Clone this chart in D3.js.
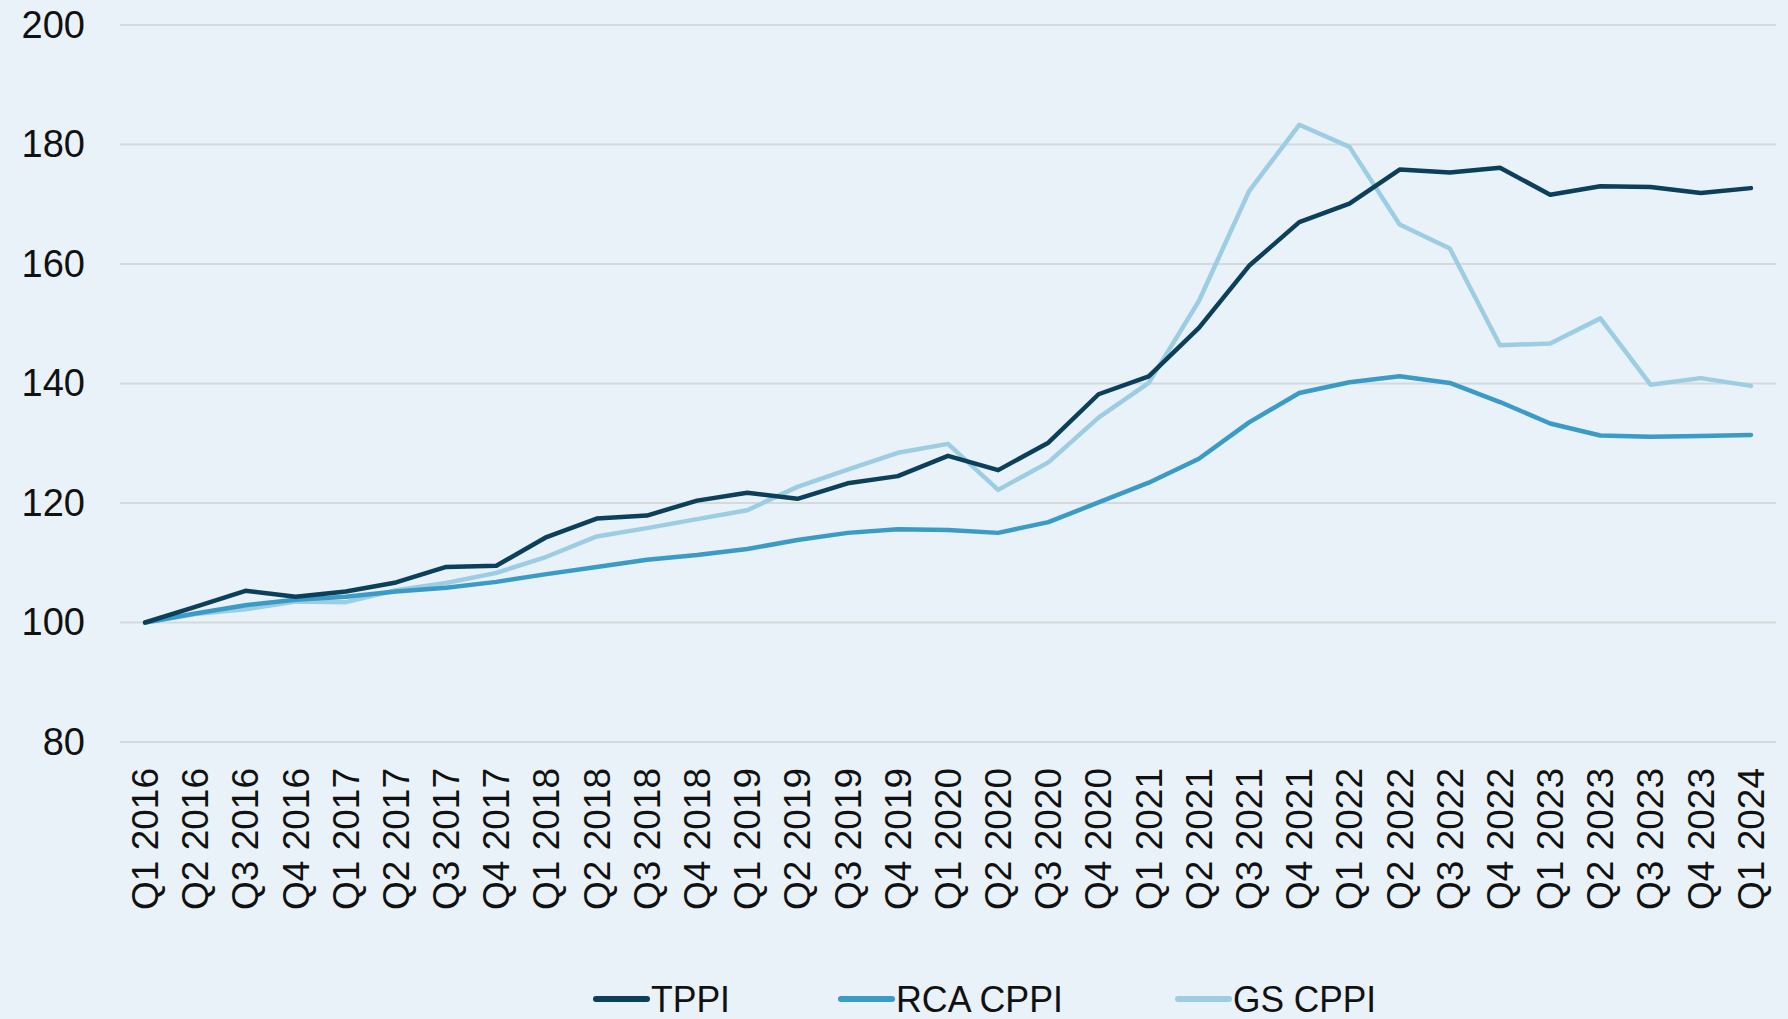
<!DOCTYPE html>
<html>
<head>
<meta charset="utf-8">
<script src="https://cdn.jsdelivr.net/npm/d3@7"></script>
<style>
html,body{margin:0;padding:0;background:#e8f2f8;}
svg{display:block;}
</style>
</head>
<body>
<svg id="chart" width="1788" height="1019"></svg>
<script>
const categories = ["Q1 2016","Q2 2016","Q3 2016","Q4 2016","Q1 2017","Q2 2017","Q3 2017","Q4 2017",
"Q1 2018","Q2 2018","Q3 2018","Q4 2018","Q1 2019","Q2 2019","Q3 2019","Q4 2019",
"Q1 2020","Q2 2020","Q3 2020","Q4 2020","Q1 2021","Q2 2021","Q3 2021","Q4 2021",
"Q1 2022","Q2 2022","Q3 2022","Q4 2022","Q1 2023","Q2 2023","Q3 2023","Q4 2023","Q1 2024"];
const tppi = [100,102.6,105.3,104.3,105.2,106.7,109.3,109.5,114.3,117.4,117.9,120.4,121.7,120.7,123.3,124.5,
127.9,125.5,130.1,138.2,141.2,149.3,159.7,167.0,170.1,175.8,175.3,176.1,171.6,173.0,172.9,171.9,172.7];
const rcaCppi = [100,101.5,102.9,103.8,104.3,105.2,105.8,106.8,108.1,109.3,110.5,111.3,112.3,113.8,115.0,115.6,
115.5,115.0,116.8,120.1,123.4,127.4,133.5,138.4,140.2,141.2,140.1,136.9,133.3,131.3,131.1,131.2,131.4];
const gsCppi = [100,101.4,102.2,103.5,103.4,105.4,106.6,108.3,111.0,114.4,115.8,117.3,118.8,122.7,125.6,128.4,
129.9,122.2,126.8,134.3,140.1,153.8,172.2,183.3,179.6,166.6,162.6,146.4,146.7,150.9,139.8,140.9,139.6];
const yTicks = [80,100,120,140,160,180,200];
const seriesNames = ["TPPI","RCA CPPI","GS CPPI"];
const seriesColors = ["#0b3f5a","#3a9bc7","#9dcde2"];

const series = [tppi, rcaCppi, gsCppi].map((v,i)=>({name:seriesNames[i], color:seriesColors[i], values:v}));

const svg = d3.select("#chart");
const margin = {left:120, right:12, top:25, bottom:277};
const W = 1788, H = 1019;
const x = d3.scaleBand().domain(categories).range([margin.left, W - margin.right]);
const y = d3.scaleLinear().domain([80,200]).range([H - margin.bottom, margin.top]);
const cx = d => x(d) + x.bandwidth()/2;

// gridlines
svg.append("g").selectAll("line").data(yTicks).join("line")
  .attr("x1", margin.left).attr("x2", W - margin.right)
  .attr("y1", d=>y(d)).attr("y2", d=>y(d))
  .attr("stroke","#d6d9db").attr("stroke-width",2);

// y axis
const yAxis = d3.axisLeft(y).tickValues(yTicks).tickSize(0).tickPadding(35);
svg.append("g").attr("transform",`translate(${margin.left},0)`).call(yAxis)
  .call(g=>g.select(".domain").remove())
  .selectAll("text").attr("font-family","'Liberation Sans', Arial, sans-serif")
  .attr("font-size",38).attr("fill","#111");

// x axis
const xAxis = d3.axisBottom(x).tickSize(0);
const gx = svg.append("g").attr("transform",`translate(0,${H - margin.bottom})`).call(xAxis);
gx.select(".domain").remove();
gx.selectAll("text")
  .attr("font-family","'Liberation Sans', Arial, sans-serif")
  .attr("font-size",37).attr("fill","#111")
  .attr("transform","rotate(-90)")
  .attr("text-anchor","end")
  .attr("x",-26).attr("y",0).attr("dy","0.35em");

// lines
const line = d3.line().x((d,i)=>cx(categories[i])).y(d=>y(d));
svg.append("g").selectAll("path").data(series.slice().reverse()).join("path")
  .attr("d", d=>line(d.values))
  .attr("fill","none").attr("stroke", d=>d.color)
  .attr("stroke-width",4.5).attr("stroke-linejoin","round").attr("stroke-linecap","round");

// legend
const legendX = [596, 841, 1178];
const legendW = [79, 167, 143];
const lg = svg.append("g");
series.forEach((s,i)=>{
  const g = lg.append("g");
  g.append("line").attr("x1",legendX[i]).attr("x2",legendX[i]+51)
    .attr("y1",999).attr("y2",999).attr("stroke",s.color)
    .attr("stroke-width",6).attr("stroke-linecap","round");
  g.append("text").attr("x",legendX[i]+55).attr("y",1012)
    .attr("font-family","'Liberation Sans Narrow', 'Liberation Sans', Arial, sans-serif")
    .attr("font-size",37).attr("fill","#111")
    .attr("textLength",legendW[i]).attr("lengthAdjust","spacingAndGlyphs")
    .text(s.name);
});
</script>
</body>
</html>
